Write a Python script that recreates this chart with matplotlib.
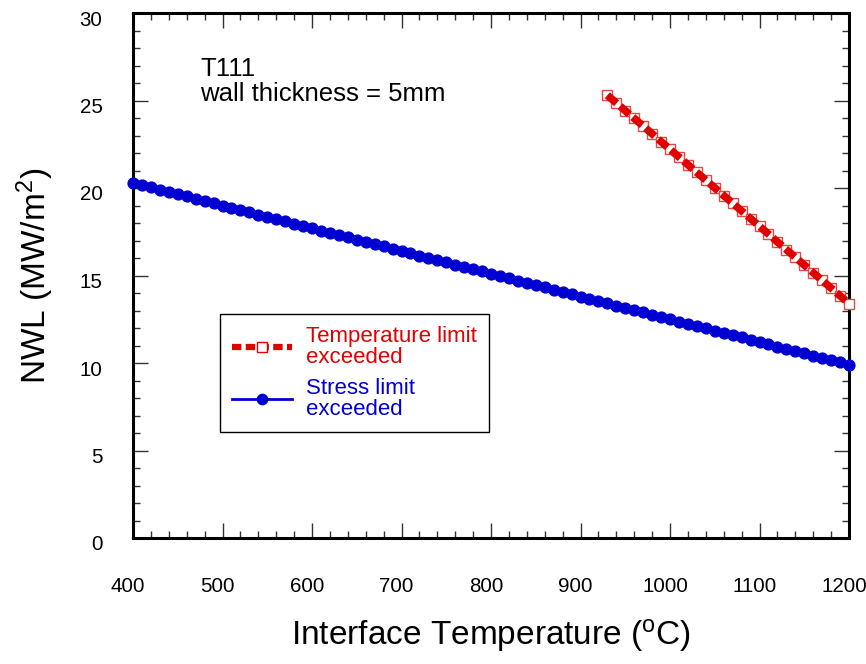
import matplotlib
matplotlib.use("Agg")
import matplotlib.pyplot as plt
import matplotlib.transforms as mtransforms
from matplotlib.lines import Line2D
from matplotlib.ticker import MultipleLocator

plt.rcParams['font.family'] = ['Liberation Sans', 'DejaVu Sans']
plt.rcParams['mathtext.fontset'] = 'custom'
plt.rcParams['mathtext.rm'] = 'Liberation Sans'
plt.rcParams['mathtext.default'] = 'regular'

# Interface temperature (deg C) and neutron wall load limits (MW/m^2)
stress_temp = list(range(400, 1201, 10))
stress_nwl = [
    20.30, 20.17, 20.04, 19.91, 19.78, 19.65, 19.52, 19.39, 19.26, 19.13,
    19.00, 18.87, 18.74, 18.61, 18.48, 18.35, 18.22, 18.09, 17.96, 17.83,
    17.70, 17.57, 17.44, 17.31, 17.18, 17.05, 16.92, 16.79, 16.66, 16.53,
    16.40, 16.27, 16.14, 16.01, 15.88, 15.75, 15.62, 15.49, 15.36, 15.23,
    15.10, 14.97, 14.84, 14.71, 14.58, 14.45, 14.32, 14.19, 14.06, 13.93,
    13.80, 13.67, 13.54, 13.41, 13.28, 13.15, 13.02, 12.89, 12.76, 12.63,
    12.50, 12.37, 12.24, 12.11, 11.98, 11.85, 11.72, 11.59, 11.46, 11.33,
    11.20, 11.07, 10.94, 10.81, 10.68, 10.55, 10.42, 10.29, 10.16, 10.03,
    9.90,
]
temp_temp = list(range(930, 1201, 10))
temp_nwl = [
    25.30, 24.86, 24.42, 23.98, 23.54, 23.10, 22.65, 22.21, 21.77, 21.33,
    20.89, 20.45, 20.01, 19.57, 19.13, 18.69, 18.25, 17.81, 17.37, 16.92,
    16.48, 16.04, 15.60, 15.16, 14.72, 14.28, 13.84, 13.40,
]
x_ticks = [400, 500, 600, 700, 800, 900, 1000, 1100, 1200]
y_ticks = [0, 5, 10, 15, 20, 25, 30]

RED = '#E00000'
RED_EDGE = '#E84848'
BLUE = '#0000D2'
RED_DASH = (1.6, 0.6)

fig = plt.figure(figsize=(8.66, 6.64), dpi=100)
ax = fig.add_axes([133 / 866, 1 - 538 / 664, 716 / 866, 525 / 664])

# stress limit curve
ax.plot(stress_temp, stress_nwl, color=BLUE, lw=1.5, marker='o', ms=7.8,
        mec=BLUE, mfc=BLUE, clip_on=False, zorder=3)

# temperature limit curve: hollow squares under a heavy dashed line
ax.plot(temp_temp, temp_nwl, ls='none', marker='s', ms=7.5, mfc='white',
        mec=RED_EDGE, mew=1.0, clip_on=False, zorder=3)
ax.plot(temp_temp, temp_nwl, color=RED, lw=5.5, dashes=RED_DASH,
        dash_capstyle='butt', clip_on=False, zorder=4)

ax.set_xlim(400, 1200)
ax.set_ylim(0, 30)
ax.set_xticks(x_ticks)
ax.set_yticks(y_ticks)
ax.xaxis.set_minor_locator(MultipleLocator(20))
ax.yaxis.set_minor_locator(MultipleLocator(1))
ax.tick_params(which='both', direction='in', top=True, right=True,
               width=1.0, color='#333333')
ax.tick_params(which='major', length=11)
ax.tick_params(which='minor', length=5)
ax.tick_params(axis='x', which='major', pad=28)
ax.tick_params(axis='y', which='major', pad=22)
for s in ax.spines.values():
    s.set_linewidth(2.2)

tick_font = dict(size=14.8)
for lab in ax.get_xticklabels():
    lab.set(**tick_font)
    lab.set_transform(lab.get_transform() +
                      mtransforms.ScaledTranslation(-5 / 100, 0, fig.dpi_scale_trans))
for lab in ax.get_yticklabels():
    lab.set(**tick_font)
    lab.set_transform(lab.get_transform() +
                      mtransforms.ScaledTranslation(0, -5 / 100, fig.dpi_scale_trans))

ax.set_xlabel('Interface Temperature ($^o$C)', fontsize=24)
ax.xaxis.set_label_coords(0.5, -(617 - 538) / 525)
ax.xaxis.label.set_va('top')
ax.set_ylabel('NWL (MW/m$^2$)', fontsize=24)
ax.yaxis.set_label_coords(-(133 - 56) / 716, 0.5)

ax.text((200 - 133) / 716, 1 - (57 - 13) / 525,
        'T111\nwall thickness = 5mm', transform=ax.transAxes,
        fontsize=18.5, va='top', ha='left', linespacing=1.05)

handles = [
    Line2D([], [], color=RED, lw=4.5, dashes=(1.5, 0.7), marker='s', ms=7.5,
           mfc='white', mec=RED, mew=1.0),
    Line2D([], [], color=BLUE, lw=2, marker='o', ms=7.4, mfc=BLUE, mec=BLUE),
]
leg = ax.legend(handles, ['Temperature limit\nexceeded', 'Stress limit\nexceeded'],
                loc='upper left',
                bbox_to_anchor=((220 - 133) / 716, 1 - (314 - 13) / 525),
                fontsize=16, frameon=True, fancybox=False, edgecolor='black',
                framealpha=1, handlelength=2.7, handletextpad=0.6,
                borderpad=0.55, labelspacing=0.42, borderaxespad=0)
leg.get_frame().set_linewidth(1.0)
for t, c in zip(leg.get_texts(), [RED, BLUE]):
    t.set_color(c)
    t.set_linespacing(1.0)

fig.savefig('out.png', dpi=100)
